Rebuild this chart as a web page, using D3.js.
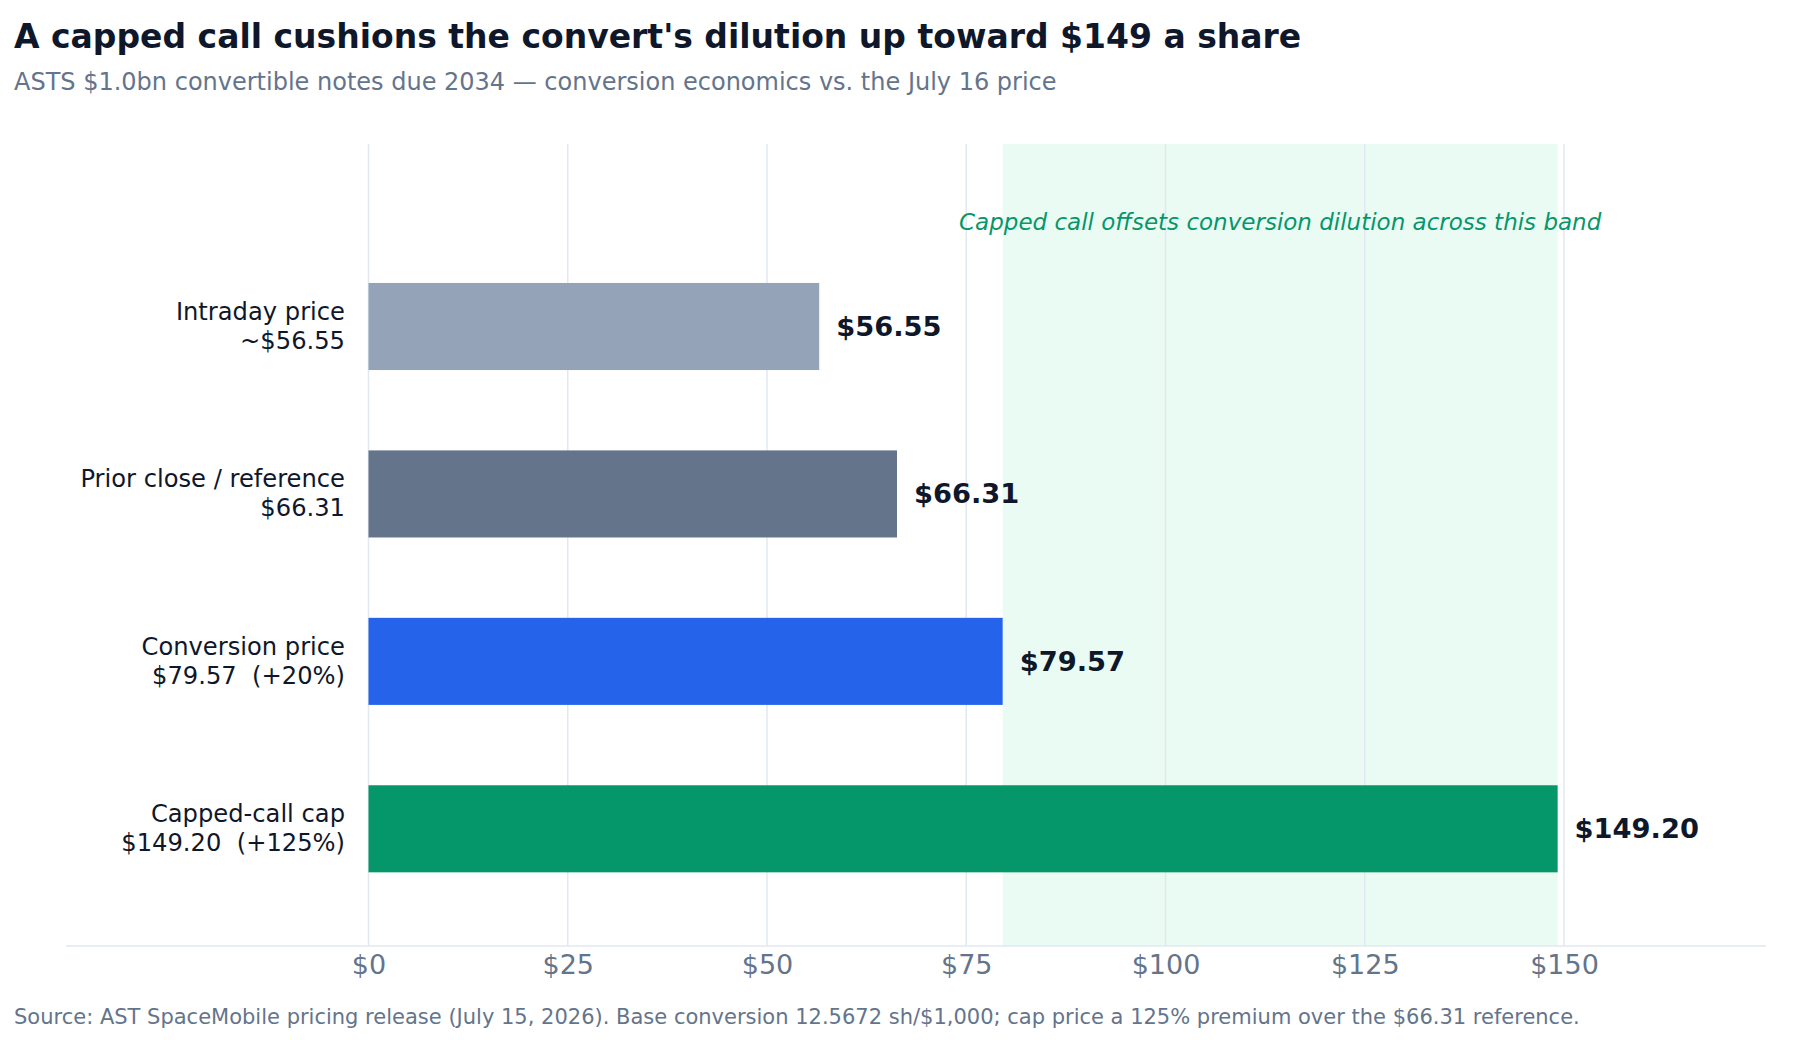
<!DOCTYPE html>
<html>
<head>
<meta charset="utf-8">
<script src="https://cdn.jsdelivr.net/npm/d3@7"></script>
<style>
  body { margin: 0; background: #fff; }
  svg { display: block; font-family: "DejaVu Sans", sans-serif; }
</style>
</head>
<body>
<svg id="chart"></svg>
<script>
// Data
const categories = ["Intraday price", "Prior close / reference", "Conversion price", "Capped-call cap"];
const subLabels = ["~$56.55", "$66.31", "$79.57  (+20%)", "$149.20  (+125%)"];
const prices = [56.55, 66.31, 79.57, 149.20];
const valueLabels = ["$56.55", "$66.31", "$79.57", "$149.20"];
const barColors = ["#94a3b8", "#64748b", "#2563eb", "#059669"];
const xTicks = [0, 25, 50, 75, 100, 125, 150];
const band = [79.57, 149.20];

const width = 1794;
const height = 1040;

const svg = d3.select("#chart")
    .attr("width", width)
    .attr("height", height);

// Plot area
const plotTop = 144;
const plotBottom = 946;
const axisLeft = 66;
const axisRight = 1766;

const x = d3.scaleLinear()
    .domain([0, 150])
    .range([368.5, 1564]);

const y = d3.scaleLinear()
    .domain([-1.09, 3.7])
    .range([plotTop, plotBottom]);

const step = y(1) - y(0);
const barH = step * 0.52;

// Highlight band
svg.append("rect")
    .attr("x", x(band[0]))
    .attr("y", plotTop)
    .attr("width", x(band[1]) - x(band[0]))
    .attr("height", plotBottom - plotTop)
    .attr("fill", "#eafbf3");

// Gridlines
svg.append("g")
    .selectAll("line")
    .data(xTicks)
    .enter()
    .append("line")
    .attr("x1", d => x(d))
    .attr("x2", d => x(d))
    .attr("y1", plotTop)
    .attr("y2", plotBottom)
    .attr("stroke", "#e2e8f0")
    .attr("stroke-width", 1.5);

// Bottom axis line
svg.append("line")
    .attr("x1", axisLeft)
    .attr("x2", axisRight)
    .attr("y1", plotBottom)
    .attr("y2", plotBottom)
    .attr("stroke", "#e2e8f0")
    .attr("stroke-width", 1.5);

// Tick labels
const xAxis = svg.append("g")
    .attr("transform", `translate(0, ${plotBottom})`)
    .call(d3.axisBottom(x).tickValues(xTicks).tickSize(0).tickPadding(9).tickFormat(d => "$" + d));
xAxis.select(".domain").remove();
xAxis.selectAll("text")
    .attr("font-family", "DejaVu Sans")
    .attr("font-size", "27px")
    .attr("fill", "#64748b");

// Bars
svg.append("g")
    .selectAll("rect")
    .data(prices)
    .enter()
    .append("rect")
    .attr("x", x(0))
    .attr("y", (d, i) => y(i) - barH / 2)
    .attr("width", d => x(d) - x(0))
    .attr("height", barH)
    .attr("fill", (d, i) => barColors[i]);

// Value labels
svg.append("g")
    .selectAll("text")
    .data(prices)
    .enter()
    .append("text")
    .attr("x", d => x(d) + 17)
    .attr("y", (d, i) => y(i))
    .attr("dy", "0.35em")
    .attr("font-size", "27.3px")
    .attr("font-weight", "bold")
    .attr("fill", "#0f172a")
    .text((d, i) => valueLabels[i]);

// Category labels (two lines)
const catG = svg.append("g");
categories.forEach((c, i) => {
    const t = catG.append("text")
        .attr("x", 345)
        .attr("y", y(i))
        .attr("text-anchor", "end")
        .attr("font-size", "24.2px")
        .attr("fill", "#0f172a");
    t.append("tspan").attr("x", 345).attr("dy", "-0.27em").text(c);
    t.append("tspan").attr("x", 345).attr("dy", "1.2em").attr("xml:space", "preserve")
        .style("white-space", "pre").text(subLabels[i]);
});

// Band annotation
svg.append("text")
    .attr("x", (x(band[0]) + x(band[1])) / 2)
    .attr("y", 222)
    .attr("dy", "0.35em")
    .attr("text-anchor", "middle")
    .attr("font-size", "23px")
    .attr("font-style", "italic")
    .attr("fill", "#059669")
    .text("Capped call offsets conversion dilution across this band");

// Title and subtitle
svg.append("text")
    .attr("x", 14)
    .attr("y", 48)
    .attr("font-size", "33px")
    .attr("font-weight", "bold")
    .attr("fill", "#0f172a")
    .text("A capped call cushions the convert's dilution up toward $149 a share");

svg.append("text")
    .attr("x", 14)
    .attr("y", 90)
    .attr("font-size", "24px")
    .attr("fill", "#64748b")
    .text("ASTS $1.0bn convertible notes due 2034 \u2014 conversion economics vs. the July 16 price");

// Footer
svg.append("text")
    .attr("x", 14)
    .attr("y", 1024)
    .attr("font-size", "21px")
    .attr("fill", "#64748b")
    .text("Source: AST SpaceMobile pricing release (July 15, 2026). Base conversion 12.5672 sh/$1,000; cap price a 125% premium over the $66.31 reference.");
</script>
</body>
</html>
